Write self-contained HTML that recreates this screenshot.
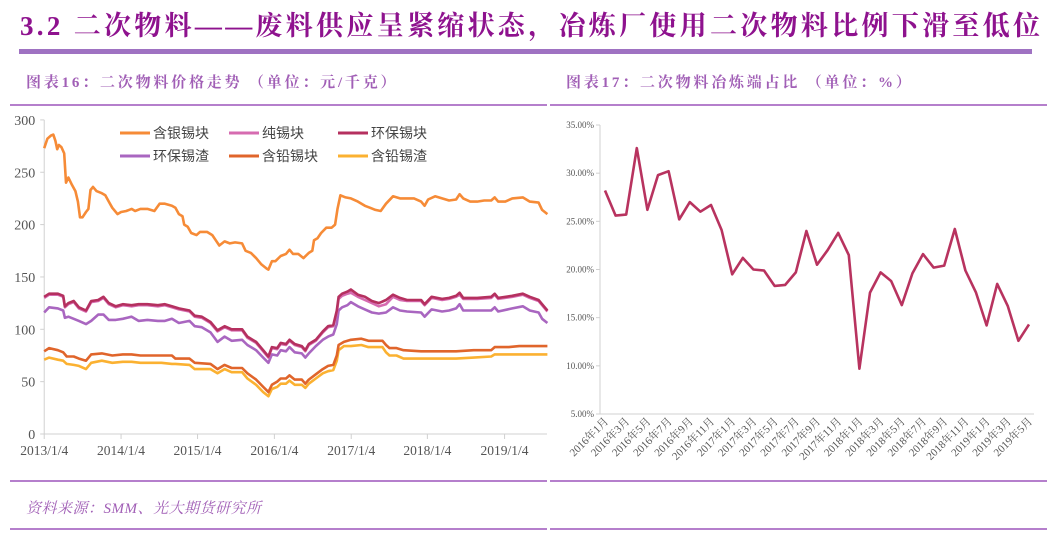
<!DOCTYPE html>
<html><head><meta charset="utf-8">
<style>
body{margin:0;width:1057px;height:553px;background:#fff;overflow:hidden;font-family:"Liberation Serif","Noto Serif CJK SC",serif;}
.abs{position:absolute;}
</style></head>
<body>
<div class="abs" style="left:20px;top:4px;font-size:27px;font-weight:bold;color:#8e128e;white-space:nowrap;letter-spacing:3.3px;">3.2 二次物料——废料供应呈紧缩状态，冶炼厂使用二次物料比例下滑至低位</div>
<div class="abs" style="left:19px;top:49px;width:1013px;height:5px;background:#9f72c2;"></div>
<div class="abs" style="left:26px;top:71px;font-size:15px;color:#a15fb6;font-weight:bold;white-space:nowrap;letter-spacing:2.8px;">图表16：二次物料价格走势 （单位：元/千克）</div>
<div class="abs" style="left:566px;top:71px;font-size:15px;color:#a15fb6;font-weight:bold;white-space:nowrap;letter-spacing:2.8px;">图表17：二次物料冶炼端占比 （单位：%）</div>
<div class="abs" style="left:10px;top:104px;width:537px;height:2px;background:#b57fcc;"></div>
<div class="abs" style="left:550px;top:104px;width:497px;height:2px;background:#b57fcc;"></div>
<div class="abs" style="left:10px;top:480px;width:537px;height:2px;background:#b57fcc;"></div>
<div class="abs" style="left:550px;top:480px;width:497px;height:2px;background:#b57fcc;"></div>
<div class="abs" style="left:26px;top:497px;font-size:15px;color:#a15fb6;font-style:italic;white-space:nowrap;letter-spacing:0.5px;">资料来源：SMM、光大期货研究所</div>
<div class="abs" style="left:10px;top:528px;width:537px;height:2px;background:#b57fcc;"></div>
<div class="abs" style="left:550px;top:528px;width:497px;height:2px;background:#b57fcc;"></div>

<svg class="abs" style="left:0;top:0" width="1057" height="553" id="svg"></svg>
<script>
// ---- chart 16 data (t = time index, 126 = 2013/1/4, ~218.7 per year) ----
const yTicks16 = [0,50,100,150,200,250,300];
const xTickT = [126,345,563,782,1001,1218,1438];
const xTickLabels = ['2013/1/4','2014/1/4','2015/1/4','2016/1/4','2017/1/4','2018/1/4','2019/1/4'];
const silverT = [126,135,145,152,158,163,168,175,183,188,195,205,215,222,228,235,245,252,258,265,275,290,300,310,320,335,345,360,375,385,400,420,440,455,470,490,500,510,520,525,535,545,560,570,590,605,615,625,640,655,670,690,700,715,730,745,760,765,775,785,800,815,825,835,850,865,880,890,895,905,915,930,945,955,962,970,985,1000,1020,1040,1055,1070,1085,1100,1120,1140,1160,1180,1200,1210,1220,1240,1260,1280,1300,1310,1320,1340,1360,1380,1400,1410,1420,1440,1460,1490,1510,1535,1545,1560];
const silverV = [273,282,285,286,280,272,276,274,268,240,245,238,232,222,207,207,212,215,233,236,232,230,228,222,216,210,212,213,215,213,215,215,213,220,220,218,216,210,208,200,198,192,190,193,193,190,185,180,184,182,183,182,175,173,168,162,158,157,165,165,170,172,176,172,172,168,173,175,185,187,192,197,197,200,215,228,226,225,222,218,216,214,213,220,227,225,225,225,222,218,224,227,225,223,224,229,225,222,222,223,223,226,222,222,225,226,222,221,214,210];
const ecoT = [126,140,165,180,185,195,210,225,245,260,280,295,310,330,350,375,395,420,450,470,490,510,540,555,575,600,620,640,660,690,705,730,750,765,775,790,800,815,825,840,860,870,880,900,920,935,950,960,965,975,990,1000,1020,1040,1060,1080,1100,1120,1140,1160,1200,1210,1230,1260,1280,1300,1310,1320,1360,1400,1410,1420,1460,1490,1510,1535,1545,1560];
const ecoV = [131,134,134,132,122,125,127,121,118,127,128,131,125,122,124,123,124,124,123,124,122,120,118,113,112,107,99,103,100,100,93,88,80,74,83,82,87,86,90,86,84,80,86,90,98,103,104,118,131,134,136,138,133,131,127,125,128,133,130,128,128,124,131,129,130,132,135,130,130,131,134,130,132,134,131,128,124,118];
const pureV = [130,133,133,131,121,124,126,120,117,126,127,130,124,121,123,122,123,123,122,123,121,119,117,112,111,106,98,102,99,99,92,87,79,73,82,81,86,85,89,85,83,79,85,89,97,102,103,116,129,132,134,135,131,128,125,122,124,131,128,127,127,123,130,128,129,131,133,129,129,130,133,129,131,133,130,127,123,117];
const slagV = [116,121,120,118,111,112,110,108,105,108,114,114,109,109,110,112,108,109,108,108,110,106,108,103,102,97,88,93,89,90,85,80,73,68,76,75,80,79,83,78,77,73,77,84,90,93,95,105,118,121,123,126,122,119,116,115,116,121,118,117,116,112,119,117,118,120,124,118,118,118,121,117,120,122,118,116,110,106];
const leadT = [126,140,165,180,190,210,225,245,260,290,320,350,375,400,460,490,500,540,555,600,620,640,660,690,705,730,750,765,775,790,800,815,825,840,860,870,880,900,920,935,950,960,965,980,1000,1030,1050,1090,1100,1110,1130,1150,1200,1300,1350,1400,1410,1450,1480,1560];
const leadV = [79,82,80,78,74,74,72,70,76,77,75,76,76,75,75,75,72,72,68,67,62,66,63,63,58,52,45,40,47,50,53,53,56,52,52,48,52,57,62,65,66,75,85,88,90,91,89,89,85,82,82,80,79,79,80,80,83,83,84,84];
const leadSlagV = [71,73,71,70,67,66,65,62,68,70,68,69,69,68,68,67,67,66,62,62,58,62,59,59,53,47,40,36,43,45,48,48,51,47,47,44,48,53,58,60,61,70,80,84,84,85,83,83,78,75,75,72,72,72,73,74,76,76,76,76];
const seriesNames = ['含银锡块','纯锡块','环保锡块','环保锡渣','含铅锡块','含铅锡渣'];
// ---- chart 17 data ----
const months17 = [];
for(let y=2016;y<=2019;y++)for(let m=1;m<=12;m++){if(y===2019&&m>5)break;months17.push(y+'年'+m+'月');}
const ratioV = [28.2,25.6,25.7,32.6,26.2,29.8,30.2,25.2,27.0,26.0,26.7,24.1,19.5,21.2,20.0,19.9,18.3,18.4,19.7,24.0,20.5,22.0,23.8,21.5,9.7,17.6,19.7,18.8,16.3,19.6,21.6,20.2,20.4,24.2,19.9,17.6,14.2,18.5,16.2,12.6,14.3];
const yTicks17 = [5,10,15,20,25,30,35];

const svg=document.getElementById('svg');const NS='http://www.w3.org/2000/svg';
function mk(tag,attrs,parent){const e=document.createElementNS(NS,tag);for(const k in attrs)e.setAttribute(k,attrs[k]);(parent||svg).appendChild(e);return e;}
const x16=t=>t/2.85; const y16=v=>434-v*1.047;
const g16=mk('g',{});


let a=mk('line',{x1:x16(126),y1:y16(300),x2:x16(126),y2:y16(0),stroke:'#d0d0d0'},g16);

a=mk('line',{x1:x16(126),y1:y16(0),x2:547,y2:y16(0),stroke:'#d0d0d0'},g16);

yTicks16.forEach(v=>{mk('line',{x1:x16(126)-4,x2:x16(126),y1:y16(v),y2:y16(v),stroke:'#d0d0d0'},g16);
 const t=mk('text',{x:x16(126)-9,y:y16(v)+5,'text-anchor':'end','font-size':14,fill:'#555'},g16);t.textContent=v;
 });
xTickT.forEach((tt,i)=>{mk('line',{x1:x16(tt),x2:x16(tt),y1:y16(0),y2:y16(0)+5,stroke:'#d0d0d0'},g16);
 const t=mk('text',{x:x16(tt),y:455,'text-anchor':'middle','font-size':13.5,fill:'#555'},g16);t.textContent=xTickLabels[i];
 });
const colors=['#f68b37','#d66bb0','#b5305f','#a966c0','#e0652b','#fbb131'];
const sets=[[silverT,silverV],[ecoT,pureV],[ecoT,ecoV],[ecoT,slagV],[leadT,leadV],[leadT,leadSlagV]];
[3,5,4,1,2,0].forEach(i=>{const [T,V]=sets[i];
 const p=mk('polyline',{points:T.map((t,j)=>x16(t).toFixed(1)+','+y16(V[j]).toFixed(1)).join(' '),fill:'none',stroke:colors[i],'stroke-width':2.6,'stroke-linejoin':'round'},g16);
 });
seriesNames.forEach((n,i)=>{const lx=120+(i%3)*109, ly=133+Math.floor(i/3)*23;
 const g=mk('g',{},g16);
 
 mk('line',{x1:lx,x2:lx+30,y1:ly,y2:ly,stroke:colors[i],'stroke-width':3},g);
 const t=mk('text',{x:lx+33,y:ly+5,'font-size':14,fill:'#444','font-family':'Liberation Sans, Noto Sans CJK SC, sans-serif'},g);t.textContent=n;});
const n17=ratioV.length;
const x17=i=>605+i*(1029-605)/(n17-1); const y17=v=>414-(v-5)*(414-125)/30;
const g17=mk('g',{});


a=mk('line',{x1:600,y1:y17(35),x2:600,y2:y17(5),stroke:'#d0d0d0'},g17);

a=mk('line',{x1:600,y1:y17(5),x2:1034,y2:y17(5),stroke:'#d0d0d0'},g17);

yTicks17.forEach(v=>{mk('line',{x1:596,x2:600,y1:y17(v),y2:y17(v),stroke:'#d0d0d0'},g17);
 const t=mk('text',{x:594,y:y17(v)+3,'text-anchor':'end','font-size':9,fill:'#555'},g17);t.textContent=v.toFixed(2)+'%';
 });
months17.forEach((m,i)=>{if(i%2)return;
 const t=mk('text',{x:x17(i)+4,y:y17(5)+8,'text-anchor':'end','font-size':11,fill:'#555',transform:`rotate(-45 ${x17(i)+4} ${y17(5)+8})`,'font-family':'Liberation Serif, Noto Serif CJK SC, serif'},g17);t.textContent=m;
 });
const pl=mk('polyline',{points:ratioV.map((v,i)=>x17(i).toFixed(1)+','+y17(v).toFixed(1)).join(' '),fill:'none',stroke:'#b8335f','stroke-width':2.6,'stroke-linejoin':'round'},g17);

</script>
</body></html>
